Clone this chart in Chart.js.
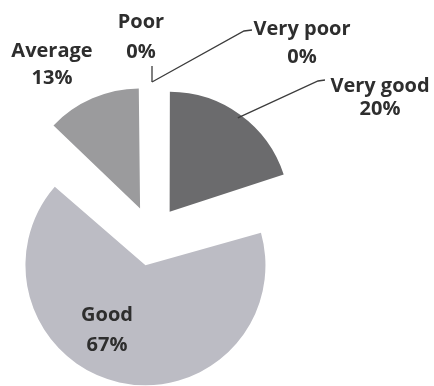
<!DOCTYPE html>
<html>
<head>
<meta charset="utf-8">
<script src="https://cdn.jsdelivr.net/npm/chart.js@4.4.0/dist/chart.umd.min.js"></script>
<style>
    html, body { margin: 0; padding: 0; background: #ffffff; }
    #wrap { width: 434px; height: 386px; position: relative; }
</style>
</head>
<body>
<div id="wrap"><canvas id="myChart"></canvas></div>
<script>
// ratings, clockwise from 12 o'clock
const categories = ['Very good', 'Good', 'Average', 'Poor', 'Very poor'];
const percentages = [20, 67, 13, 0, 0];

// text + leader line for each slice (x, y of both text lines, leader points)
const labelSpots = {
    'Very good': {x: 380, y1: 86, y2: 109, line: [[318, 81], [325, 80]]},
    'Good':      {x: 107, y1: 315, y2: 345, line: null},
    'Average':   {x: 52, y1: 51, y2: 78, line: null},
    'Poor':      {x: 141, y1: 22, y2: 52, line: [[152, 66]]},
    'Very poor': {x: 302, y1: 29, y2: 57, line: [[244, 31], [252, 30]]}
};

const PIE_R = 120;

const pieLabels = {
    id: 'pieLabels',
    // chart.js grows the radius of exploded slices, keep them all the same size
    afterDatasetsUpdate(chart) {
        chart.getDatasetMeta(0).data.forEach(function (arc) {
            const off = (arc.options.offset || 0) / 4;
            const fix = 1 - Math.sin(Math.min(Math.PI, arc.circumference || 0));
            arc.outerRadius = PIE_R - off * fix;
        });
    },
    afterDatasetsDraw(chart) {
        const ctx = chart.ctx;
        const arcs = chart.getDatasetMeta(0).data;
        ctx.save();
        ctx.strokeStyle = '#3c3c3c';
        ctx.lineWidth = 1.3;
        arcs.forEach(function (arc, i) {
            const spot = labelSpots[categories[i]];
            const mid = (arc.startAngle + arc.endAngle) / 2;
            if (spot.line) {
                // start the leader at the outer edge of the (exploded) slice
                let r;
                if (arc.circumference > 0) {
                    r = PIE_R + arc.options.offset / 4 - 4;
                } else {
                    r = PIE_R + 34;
                }
                ctx.beginPath();
                ctx.moveTo(arc.x + Math.cos(mid) * r, arc.y + Math.sin(mid) * r);
                spot.line.forEach(function (pt) { ctx.lineTo(pt[0], pt[1]); });
                ctx.stroke();
            }
            ctx.fillStyle = '#2e2e2e';
            ctx.font = 'bold 20px "Open Sans", Lato, sans-serif';
            ctx.textAlign = 'center';
            ctx.textBaseline = 'middle';
            ctx.fillText(categories[i], spot.x, spot.y1);
            ctx.fillText(percentages[i] + '%', spot.x, spot.y2);
        });
        ctx.restore();
    }
};

var ctx = document.getElementById('myChart');
var myChart = new Chart(ctx, {
    type: 'pie',
    data: {
        labels: categories,
        datasets: [{
            data: percentages,
            backgroundColor: ['#6b6b6d', '#bcbcc4', '#9b9b9d', '#8a8a8a', '#555555'],
            borderWidth: 0,
            offset: 120,
            radius: PIE_R,
            clip: false
        }]
    },
    options: {
        responsive: true,
        maintainAspectRatio: false,
        animation: false,
        events: [],
        layout: {
            padding: {left: 0, right: 130, top: 86, bottom: 0}
        },
        plugins: {
            legend: {
                display: false
            },
            tooltip: {
                enabled: false
            }
        }
    },
    plugins: [pieLabels]
});
</script>
</body>
</html>
